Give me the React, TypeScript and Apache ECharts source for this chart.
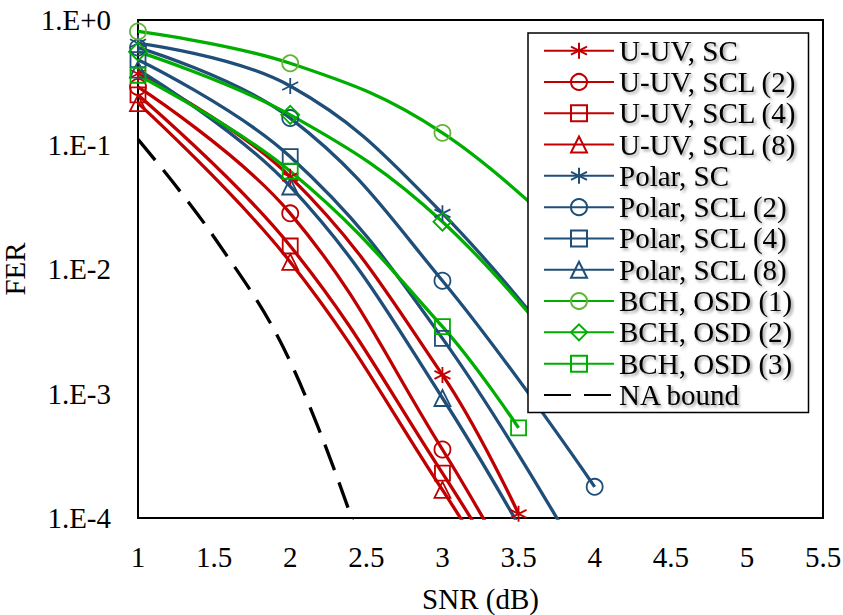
import React, { useEffect, useRef } from 'react';
import * as echarts from 'echarts';

// ---- data ----
const xTicks = [1, 1.5, 2, 2.5, 3, 3.5, 4, 4.5, 5, 5.5];

const uuvScX = [1, 2, 3, 3.5];
const uuvScY = [0.37, 0.055, 0.00141, 0.000108];
const uuvScl2X = [1, 2, 3, 3.5];
const uuvScl2Y = [0.29, 0.028, 0.000355, 0.000031];
const uuvScl4X = [1, 2, 3, 3.5];
const uuvScl4Y = [0.25, 0.0153, 0.000229, 0.000023];
const uuvScl8X = [1, 2, 3, 3.5];
const uuvScl8Y = [0.215, 0.0114, 0.000168, 0.0000176];

const polarScX = [1, 2, 3, 4];
const polarScY = [0.65, 0.295, 0.028, 0.001];
const polarScl2X = [1, 2, 3, 4];
const polarScl2Y = [0.6, 0.163, 0.00805, 0.000178];
const polarScl4X = [1, 2, 3, 4];
const polarScl4Y = [0.48, 0.0798, 0.00277, 0.00003];
const polarScl8X = [1, 2, 3, 4];
const polarScl8Y = [0.4, 0.046, 0.00092, 0.000007];

const bch1X = [1, 2, 3, 4];
const bch1Y = [0.81, 0.449, 0.124, 0.011];
const bch2X = [1, 2, 3, 4];
const bch2Y = [0.557, 0.173, 0.024, 0.001];
const bch3X = [1, 2, 3, 3.5];
const bch3Y = [0.36, 0.061, 0.00344, 0.00053];

const naX = [1, 1.5, 2, 2.5];
const naY = [0.11, 0.018, 0.0018, 0.000045];

const names = [
  'U-UV, SC', 'U-UV, SCL (2)', 'U-UV, SCL (4)', 'U-UV, SCL (8)',
  'Polar, SC', 'Polar, SCL (2)', 'Polar, SCL (4)', 'Polar, SCL (8)',
  'BCH, OSD (1)', 'BCH, OSD (2)', 'BCH, OSD (3)', 'NA bound',
];

const RED = '#C00000';
const BLUE = '#1F4E79';
const GREEN = '#00AE00';
const GREEN_L = '#62B53A';
const ASTER = 'path://M0,-1L0,1M-0.866,-0.5L0.866,0.5M-0.866,0.5L0.866,-0.5';
const FONT = 'Liberation Serif';

function mk(name: string, xs: number[], ys: number[], color: string, symbol: string, markColor?: string, size = 16) {
  return {
    name,
    type: 'line',
    data: xs.map((x, i) => [x, ys[i]]),
    smooth: 0.4,
    clip: true,
    symbol,
    symbolSize: size,
    lineStyle: { color, width: 3.3 },
    itemStyle: { color: 'rgba(0,0,0,0)', borderColor: markColor || color, borderWidth: 1.8 },
    emphasis: { disabled: true },
  };
}

export default function App() {
  const ref = useRef<HTMLDivElement>(null);
  useEffect(() => {
    if (!ref.current) return;
    const chart = echarts.init(ref.current, undefined, { renderer: 'svg' });
    const series: any[] = [
      mk(names[0], uuvScX, uuvScY, RED, ASTER),
      mk(names[1], uuvScl2X, uuvScl2Y, RED, 'circle'),
      mk(names[2], uuvScl4X, uuvScl4Y, RED, 'rect', undefined, 15),
      mk(names[3], uuvScl8X, uuvScl8Y, RED, 'triangle'),
      mk(names[4], polarScX, polarScY, BLUE, ASTER),
      mk(names[5], polarScl2X, polarScl2Y, BLUE, 'circle'),
      mk(names[6], polarScl4X, polarScl4Y, BLUE, 'rect', undefined, 15),
      mk(names[7], polarScl8X, polarScl8Y, BLUE, 'triangle'),
      mk(names[8], bch1X, bch1Y, GREEN, 'circle', GREEN_L),
      mk(names[9], bch2X, bch2Y, GREEN, 'diamond', undefined, 18),
      mk(names[10], bch3X, bch3Y, GREEN, 'rect', undefined, 15),
      {
        name: names[11],
        type: 'line',
        data: naX.map((x, i) => [x, naY[i]]),
        smooth: 0.4,
        clip: true,
        symbol: 'circle',
        showSymbol: false,
        lineStyle: { color: '#000', width: 3.3, type: [27, 13] },
        itemStyle: { color: 'rgba(0,0,0,0)', borderWidth: 0 },
        emphasis: { disabled: true },
      },
    ];
    chart.setOption({
      animation: false,
      textStyle: { fontFamily: FONT },
      grid: {
        left: 138, top: 20, right: 20, bottom: 97, show: true, borderColor: '#000', borderWidth: 2,
        containLabel: false, outerBoundsMode: 'none',
      },
      xAxis: {
        type: 'value',
        min: 1,
        max: 5.5,
        interval: 0.5,
        name: 'SNR (dB)',
        nameLocation: 'middle',
        nameGap: 66,
        nameTextStyle: { fontFamily: FONT, fontSize: 29, color: '#000' },
        axisLine: { show: true, lineStyle: { color: '#000', width: 2 } },
        axisTick: { show: false },
        splitLine: { show: false },
        axisLabel: {
          fontFamily: FONT, fontSize: 29, color: '#000', margin: 24,
          formatter: (v: number) => (xTicks.includes(v) ? String(v) : ''),
        },
      },
      yAxis: {
        type: 'log',
        logBase: 10,
        min: 0.0001,
        max: 1,
        name: 'FER',
        nameLocation: 'middle',
        nameGap: 98,
        nameTextStyle: { fontFamily: FONT, fontSize: 29, color: '#000' },
        axisLine: { show: true, lineStyle: { color: '#000', width: 2 } },
        axisTick: { show: false },
        splitLine: { show: false },
        axisLabel: {
          fontFamily: FONT, fontSize: 29, color: '#000', margin: 27,
          formatter: (v: number) => {
            const e = Math.round(Math.log10(v));
            return '1.E' + (e >= 0 ? '+' : '') + e;
          },
        },
      },
      legend: {
        orient: 'vertical',
        left: 528,
        top: 33,
        data: names,
        backgroundColor: '#fff',
        borderColor: '#000',
        borderWidth: 1.5,
        padding: [2, 12, 2, 15],
        itemWidth: 70,
        itemHeight: 20,
        itemGap: 0,
        selectedMode: false,
        textStyle: {
          fontFamily: FONT, fontSize: 29, color: '#000', lineHeight: 31.3,
          textShadowColor: 'rgba(0,0,0,0.4)', textShadowBlur: 3, textShadowOffsetX: 2, textShadowOffsetY: 2,
        },
      },
      series,
    });
    return () => chart.dispose();
  }, []);
  return <div ref={ref} style={{ position: 'fixed', left: 0, top: 0, width: 843, height: 615, background: '#fff' }} />;
}
